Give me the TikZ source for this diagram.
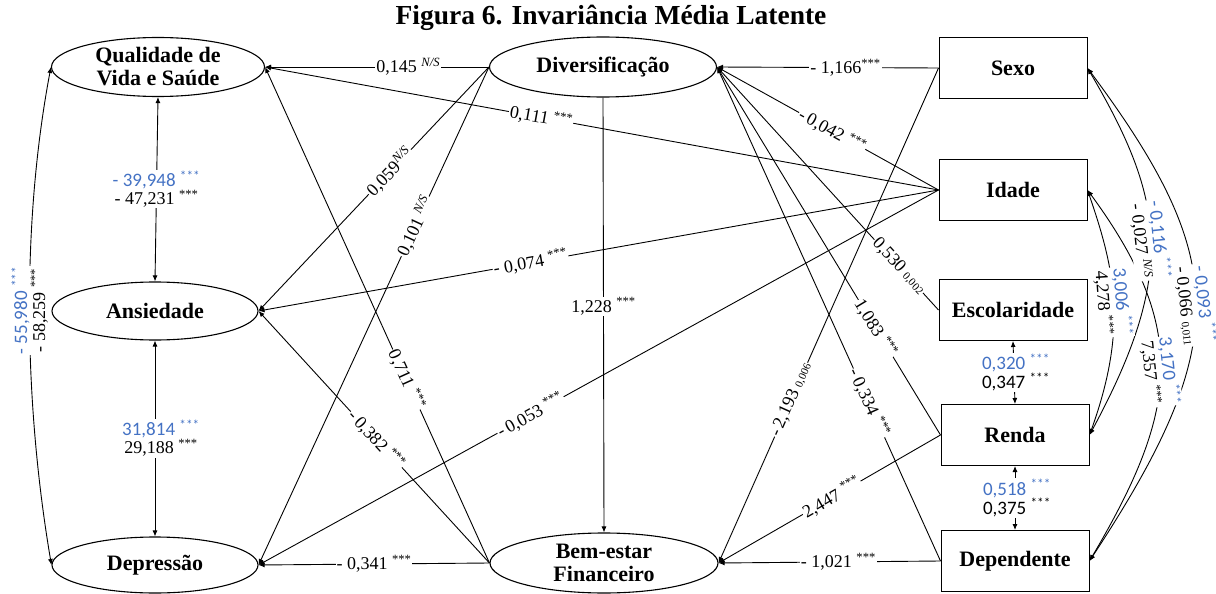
\documentclass[tikz,border=0pt]{standalone}
\usepackage{fontspec}
\setmainfont{Liberation Serif}
\newfontfamily\carl{Carlito}
\usetikzlibrary{shapes.geometric,arrows.meta}
\definecolor{bl}{RGB}{68,114,196}
\newcommand\stars{\textsuperscript{***}}
\newcommand\nsig{\textsuperscript{\textit{N/S}}}
\newcommand\pv[1]{{\fontsize{11}{11}\selectfont #1}}
\newcommand\bluetxt[1]{{\carl\fontsize{19}{18}\selectfont\color{bl}#1}}
\begin{document}
\begin{tikzpicture}[x=1pt,y=-1pt,
  ell/.style={ellipse,draw,line width=1.1pt,inner xsep=-20pt,inner ysep=-12pt,
    font=\bfseries\fontsize{22}{23}\selectfont,align=center},
  vbox/.style={rectangle,draw,line width=1pt,minimum width=148pt,minimum height=61pt,
    font=\bfseries\fontsize{22}{23}\selectfont},
  arr/.style={line width=0.9pt,-{Latex[length=6pt,width=5pt]}},
  darr/.style={line width=0.9pt,{Latex[length=6pt,width=5pt]}-{Latex[length=6pt,width=5pt]}},
  lab/.style={fill=white,inner sep=1pt,font=\fontsize{18}{18}\selectfont},
  lab2/.style={fill=white,inner sep=1pt,align=center,font=\fontsize{18}{18}\selectfont}]
\useasboundingbox (0,0) rectangle (1216,594);
\node[font=\bfseries\fontsize{27.5}{30}\selectfont,anchor=base] (title) at (611,25) {Figura 6. Invariância Média Latente};
% latent variables
\node[ell,minimum width=213pt,minimum height=59pt] (qual) at (158,67) {Qualidade de\\Vida e Saúde};
\node[ell,minimum width=227pt,minimum height=60pt] (div) at (603,67) {Diversificação};
\node[ell,minimum width=206pt,minimum height=58pt] (ans) at (155,311) {Ansiedade};
\node[ell,minimum width=206pt,minimum height=56pt] (dep) at (155,565) {Depressão};
\node[ell,minimum width=228pt,minimum height=60pt] (bem) at (604,563) {Bem-estar\\Financeiro};
% observed variables
\node[vbox] (sexo) at (1013,68) {Sexo};
\node[vbox] (idade) at (1013,190) {Idade};
\node[vbox] (esc) at (1013,310) {Escolaridade};
\node[vbox] (renda) at (1015,435) {Renda};
\node[vbox] (depd) at (1015,561) {Dependente};
% regression paths
\draw[arr] (div.west) -- (qual.east);
\draw[arr] (idade.west) -- (qual.east);
\draw[arr] (div.west) -- (ans.east);
\draw[arr] (div.west) -- (dep.east);
\draw[arr] (bem.west) -- (qual.east);
\draw[arr] (bem.west) -- (ans.east);
\draw[arr] (div.south) -- (bem.north);
\draw[arr] (bem.west) -- (dep.east);
\draw[arr] (sexo.west) -- (div.east);
\draw[arr] (idade.west) -- (div.east);
\draw[arr] (esc.west) -- (div.east);
\draw[arr] (renda.west) -- (div.east);
\draw[arr] (depd.west) -- (div.east);
\draw[arr] (idade.west) -- (ans.east);
\draw[arr] (idade.west) -- (dep.east);
\draw[arr] (sexo.west) -- (bem.east);
\draw[arr] (renda.west) -- (bem.east);
\draw[arr] (depd.west) -- (bem.east);
% covariances
\draw[darr] (qual.south) -- (ans.north);
\draw[darr] (ans.south) -- (dep.north);
\draw[darr] (esc.south) -- (renda.north);
\draw[darr] (renda.south) -- (depd.north);
\draw[darr] (qual.west) .. controls (22,220) and (23,397) .. (dep.west);
\draw[darr] (sexo.east) .. controls (1165,200) and (1177,273) .. (renda.east);
\draw[darr] (sexo.east) .. controls (1230,260) and (1232,344) .. (depd.east);
\draw[darr] (idade.east) .. controls (1115,270) and (1128,328) .. (renda.east);
\draw[darr] (idade.east) .. controls (1190,330) and (1178,411) .. (depd.east);
% labels of regression paths
\path (div.west) -- (qual.east) node[lab,pos=0.36] (l1) {0,145 \nsig};
\path (idade.west) -- (qual.east) node[lab,pos=0.59,sloped] (l2) {0,111 \stars};
\path (div.west) -- (ans.east) node[lab,pos=0.43,sloped] (l3) {0,059\nsig};
\path (div.west) -- (dep.east) node[lab,pos=0.32,sloped] (l4) {0,101 \nsig};
\path (bem.west) -- (qual.east) node[lab,pos=0.37,sloped] (l5) {0,711 \stars};
\path (bem.west) -- (ans.east) node[lab,pos=0.49,sloped] (l6) {-\,0,382 \stars};
\path (div.south) -- (bem.north) node[lab,pos=0.48] (l7) {1,228 \stars};
\path (bem.west) -- (dep.east) node[lab,pos=0.5] (l8) {- 0,341 \stars};
\path (sexo.west) -- (div.east) node[lab,pos=0.42] (l9) {- 1,166\stars};
\path (idade.west) -- (div.east) node[lab,pos=0.48,sloped] (l10) {-\,0,042 \stars};
\path (esc.west) -- (div.east) node[lab,pos=0.18,sloped] (l11) {0,530 \pv{0,002}};
\path (renda.west) -- (div.east) node[lab,pos=0.29,sloped] (l12) {1,083 \stars};
\path (depd.west) -- (div.east) node[lab,pos=0.32,sloped] (l13) {-\,0,334 \stars};
\path (idade.west) -- (ans.east) node[lab,pos=0.6,sloped] (l14) {- 0,074 \stars};
\path (idade.west) -- (dep.east) node[lab,pos=0.6,sloped] (l15) {-\,0,053 \stars};
\path (sexo.west) -- (bem.east) node[lab,pos=0.67,sloped] (l16) {-\,2,193 \pv{0,006}};
\path (renda.west) -- (bem.east) node[lab,pos=0.49,sloped] (l17) {2,447 \stars};
\path (depd.west) -- (bem.east) node[lab,pos=0.46] (l18) {- 1,021 \stars};
% labels of covariances
\path (qual.south) -- (ans.north) node[lab2,pos=0.5] (c1) {\bluetxt{- 39,948 \stars}\\- 47,231 \stars};
\path (ans.south) -- (dep.north) node[lab2,pos=0.5,xshift=6pt] (c2) {\bluetxt{31,814 \stars}\\29,188 \stars};
\path (esc.south) -- (renda.north) node[lab2,pos=0.5,xshift=2pt] (c3) {\bluetxt{0,320 \stars}\\{\carl\fontsize{19}{18}\selectfont 0,347 \stars}};
\path (renda.south) -- (depd.north) node[lab2,pos=0.5,xshift=2pt] (c4) {\bluetxt{0,518 \stars}\\{\carl\fontsize{19}{18}\selectfont 0,375 \stars}};
\path (qual.west) .. controls (22,220) and (23,397) .. (dep.west) node[lab2,pos=0.5,rotate=90] (c5) {\bluetxt{- 55,980 \stars}\\- 58,259 \stars};
\path (sexo.east) .. controls (1165,200) and (1177,273) .. (renda.east) node[lab2,pos=0.5,rotate=-84] (c6) {\bluetxt{- 0,116 \stars}\\- 0,027 \nsig};
\path (sexo.east) .. controls (1230,260) and (1232,344) .. (depd.east) node[lab2,pos=0.5,rotate=-84] (c7) {\bluetxt{- 0,093 \stars}\\- 0,066 \pv{0,011}};
\path (idade.east) .. controls (1115,270) and (1128,328) .. (renda.east) node[lab2,pos=0.5,rotate=-86] (c8) {\bluetxt{3,006 \stars}\\4,278 \stars};
\path (idade.east) .. controls (1190,330) and (1178,411) .. (depd.east) node[lab2,pos=0.5,rotate=-84] (c9) {\bluetxt{3,170 \stars}\\7,357 \stars};
\end{tikzpicture}
\end{document}
